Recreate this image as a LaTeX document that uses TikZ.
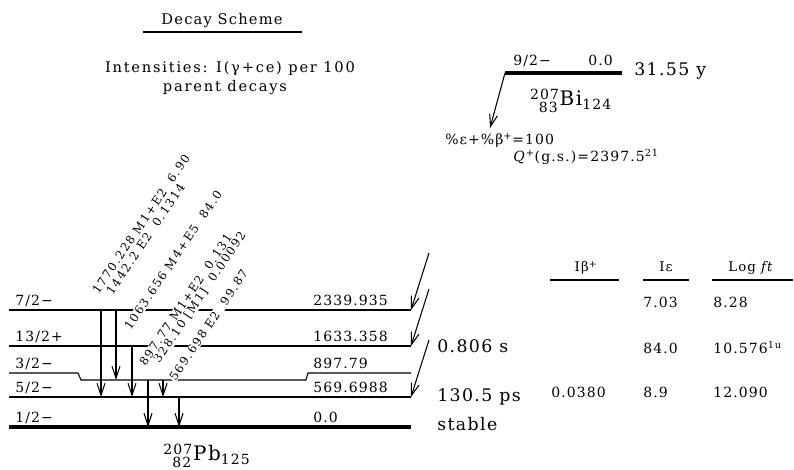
\documentclass[tikz,border=0pt]{standalone}
\usepackage{amsmath}
\usepackage{fontspec}
\setmainfont{DejaVu Serif}[LetterSpace=8]
\newfontfamily\gamfont{DejaVu Serif}[LetterSpace=13]
\newfontfamily\widefont{DejaVu Serif}[LetterSpace=12]
\usetikzlibrary{arrows.meta}

\begin{document}
\begin{tikzpicture}[x=0.75pt, y=-0.75pt,
    lvl/.style={line width=0.8pt},
    lvlmid/.style={line width=1.6pt},
    lvlgs/.style={line width=3.2pt},
    gam/.style={line width=0.8pt, -{Straight Barb[length=9pt, width=6pt]}},
    spin/.style={anchor=base west, inner sep=0pt, font=\fontsize{10.5}{12}\selectfont},
    glab/.style={anchor=south west, rotate=56, fill=white, inner sep=0.5pt,
                 font=\gamfont\fontsize{8.8}{10}\selectfont},
    hl/.style={anchor=base west, inner sep=0pt, font=\fontsize{13}{15}\selectfont},
    nucl/.style={anchor=base, inner sep=0pt, font=\fontsize{15}{17}\selectfont},
    colhead/.style={anchor=base, inner sep=0pt, font=\fontsize{10}{12}\selectfont},
  ]
    \useasboundingbox (0,0) rectangle (794,470);

    % title block
    \node[anchor=base, inner sep=0pt, font=\fontsize{11}{13}\selectfont] (title) at (222,25) {Decay Scheme};
    \draw[lvl] (143,32) -- (302,32);
    \node[anchor=base, inner sep=0pt, font=\widefont\fontsize{11}{13}\selectfont] (intens) at (230,73) {Intensities: I(γ+ce) per 100};
    \node[anchor=base, inner sep=0pt, font=\widefont\fontsize{11}{13}\selectfont] (parent) at (225,92) {parent decays};

    % parent level
    \coordinate (pw) at (505,73);
    \coordinate (pe) at (622,73);
    \draw[line width=3.5pt] (pw) -- (pe);
    \node[spin] (pspin) at (513,66) {9/2−};
    \node[spin] (pen) at (588,66) {0.0};
    \node[hl] (phalf) at (634,76) {31.55 y};
    \node[nucl] (bi) at (571,106)
        {${}^{\text{207}}_{\phantom{\text{0}}\text{83}}\text{Bi}_{\text{124}}$};
    \coordinate (ec) at (490,128);
    \draw[gam] (pw) -- (ec);
    \node[spin] (branch) at (445,145) {\%ε+\%β\textsuperscript{+}=100};
    \node[spin] (qval) at (513,162) {\textit{Q}\textsuperscript{+}(g.s.)=2397.5\textsuperscript{21}};

    % daughter levels
    \coordinate (l2340w) at (9,310);  \coordinate (l2340e) at (411,310);
    \coordinate (l1633w) at (9,346);  \coordinate (l1633e) at (411,346);
    \coordinate (l898w) at (9,373);   \coordinate (l898e) at (411,373);
    \coordinate (l898d) at (81,380);
    \coordinate (l570w) at (9,397);   \coordinate (l570e) at (411,397);
    \coordinate (l0w) at (9,427);     \coordinate (l0e) at (411,427);

    \draw[lvl] (l2340w) -- (l2340e);
    \draw[lvlmid] (l1633w) -- (l1633e);
    \draw[lvl] (l898w) -- (78,373) -- (l898d) -- (306,380) -- (308,373) -- (l898e);
    \draw[lvl] (l570w) -- (l570e);
    \draw[lvlgs] (l0w) -- (l0e);

    \node[spin] (s2340) at (15,306) {7/2−};
    \node[spin] (s1633) at (15,342) {13/2+};
    \node[spin] (s898) at (15,369) {3/2−};
    \node[spin] (s570) at (15,393) {5/2−};
    \node[spin] (s0) at (15,423) {1/2−};

    \node[spin] (e2340) at (313,306) {2339.935};
    \node[spin] (e1633) at (313,342) {1633.358};
    \node[spin] (e898) at (313,369) {897.79};
    \node[spin] (e570) at (313,393) {569.6988};
    \node[spin] (e0) at (313,423) {0.0};

    % gamma labels, right to left
    \node[glab] (t570) at (176,383) {569.698 E2\ \ 99.87};
    \node[glab] (t328) at (161,366) {328.10 [M1]\ \ 0.00092};
    \node[glab] (t898) at (146,368) {897.77 M1+E2\ \ 0.131};
    \node[glab] (t1064) at (131,332) {1063.656 M4+E5\ \ 84.0};
    \node[glab] (t1442) at (113,297) {1442.2 E2\ \ 0.1314};
    \node[glab] (t1770) at (99,296) {1770.228 M1+E2\ \ 6.90};

    % gamma transitions
    \coordinate (g1770) at (101,0);
    \coordinate (g1442) at (116,0);
    \coordinate (g1064) at (132,0);
    \coordinate (g898) at (148,0);
    \coordinate (g328) at (163,0);
    \coordinate (g570) at (179,0);
    \draw[gam] (g1770 |- l2340w) -- (g1770 |- l570w);
    \draw[gam] (g1442 |- l2340w) -- (g1442 |- l898d);
    \draw[gam] (g1064 |- l1633w) -- (g1064 |- l570w);
    \draw[gam] (g898 |- l898d) -- (g898 |- l0w);
    \draw[gam] (g328 |- l898d) -- (g328 |- l570w);
    \draw[gam] (g570 |- l570w) -- (g570 |- l0w);

    % feeding
    \coordinate (f2340) at (429,253);
    \coordinate (f1633) at (429,289);
    \coordinate (f570) at (429,340);
    \draw[gam] (f2340) -- (l2340e);
    \draw[gam] (f1633) -- (l1633e);
    \draw[gam] (f570) -- (l570e);

    \node[hl] (h1633) at (437,353) {0.806 s};
    \node[hl] (h570) at (437,402) {130.5 ps};
    \node[hl] (h0) at (437,431) {stable};

    \node[nucl] (pb) at (207,461)
        {${}^{\text{207}}_{\phantom{\text{0}}\text{82}}\text{Pb}_{\text{125}}$};

    % table
    \node[colhead] (cib) at (586,272) {Iβ\textsuperscript{+}};
    \node[colhead] (cie) at (666,272) {Iε};
    \node[colhead] (cft) at (751,272) {Log \textit{ft}};
    \draw[lvl] (550,280) -- (619,280);
    \draw[lvl] (643,280) -- (689,280);
    \draw[lvl] (712,280) -- (793,280);

    \node[spin] (ie2340) at (643,308) {7.03};
    \node[spin] (ft2340) at (713,308) {8.28};
    \node[spin] (ie1633) at (643,354) {84.0};
    \node[spin] (ft1633) at (713,354) {10.576\textsuperscript{1u}};
    \node[spin] (ib570) at (551,398) {0.0380};
    \node[spin] (ie570) at (643,398) {8.9};
    \node[spin] (ft570) at (713,398) {12.090};
\end{tikzpicture}
\end{document}
